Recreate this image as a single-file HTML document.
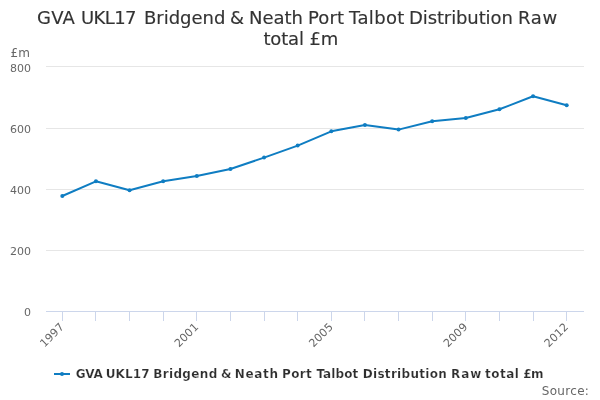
<!DOCTYPE html>
<html><head><meta charset="utf-8"><style>
html,body{margin:0;padding:0;background:#fff;}
svg{display:block;font-family:"DejaVu Sans","Liberation Sans",sans-serif;}
</style></head><body>
<svg width="600" height="400" viewBox="0 0 600 400">
<rect width="600" height="400" fill="#ffffff"/>
<path d="M 46 66.5 L 584 66.5" stroke="#e6e6e6" stroke-width="1" fill="none"/><path d="M 46 128.5 L 584 128.5" stroke="#e6e6e6" stroke-width="1" fill="none"/><path d="M 46 189.5 L 584 189.5" stroke="#e6e6e6" stroke-width="1" fill="none"/><path d="M 46 250.5 L 584 250.5" stroke="#e6e6e6" stroke-width="1" fill="none"/>
<path d="M 46 311.5 L 584 311.5" stroke="#ccd6eb" stroke-width="1" fill="none"/>
<path d="M 62.5 311 L 62.5 321" stroke="#ccd6eb" stroke-width="1" fill="none"/><path d="M 95.5 311 L 95.5 321" stroke="#ccd6eb" stroke-width="1" fill="none"/><path d="M 129.5 311 L 129.5 321" stroke="#ccd6eb" stroke-width="1" fill="none"/><path d="M 163.5 311 L 163.5 321" stroke="#ccd6eb" stroke-width="1" fill="none"/><path d="M 196.5 311 L 196.5 321" stroke="#ccd6eb" stroke-width="1" fill="none"/><path d="M 230.5 311 L 230.5 321" stroke="#ccd6eb" stroke-width="1" fill="none"/><path d="M 264.5 311 L 264.5 321" stroke="#ccd6eb" stroke-width="1" fill="none"/><path d="M 297.5 311 L 297.5 321" stroke="#ccd6eb" stroke-width="1" fill="none"/><path d="M 331.5 311 L 331.5 321" stroke="#ccd6eb" stroke-width="1" fill="none"/><path d="M 364.5 311 L 364.5 321" stroke="#ccd6eb" stroke-width="1" fill="none"/><path d="M 398.5 311 L 398.5 321" stroke="#ccd6eb" stroke-width="1" fill="none"/><path d="M 432.5 311 L 432.5 321" stroke="#ccd6eb" stroke-width="1" fill="none"/><path d="M 465.5 311 L 465.5 321" stroke="#ccd6eb" stroke-width="1" fill="none"/><path d="M 499.5 311 L 499.5 321" stroke="#ccd6eb" stroke-width="1" fill="none"/><path d="M 533.5 311 L 533.5 321" stroke="#ccd6eb" stroke-width="1" fill="none"/><path d="M 566.5 311 L 566.5 321" stroke="#ccd6eb" stroke-width="1" fill="none"/>
<path d="M 62.31 196.00 L 95.94 181.30 L 129.56 190.30 L 163.19 181.30 L 196.81 176.00 L 230.44 169.00 L 264.06 157.60 L 297.69 145.60 L 331.31 131.30 L 364.94 125.00 L 398.56 129.60 L 432.19 121.30 L 465.81 118.00 L 499.44 109.30 L 533.06 96.30 L 566.69 105.30" stroke="#0f7dc2" stroke-width="2" fill="none" stroke-linejoin="round" stroke-linecap="round"/>
<circle cx="62.31" cy="196.00" r="2" fill="#0f7dc2"/><circle cx="95.94" cy="181.30" r="2" fill="#0f7dc2"/><circle cx="129.56" cy="190.30" r="2" fill="#0f7dc2"/><circle cx="163.19" cy="181.30" r="2" fill="#0f7dc2"/><circle cx="196.81" cy="176.00" r="2" fill="#0f7dc2"/><circle cx="230.44" cy="169.00" r="2" fill="#0f7dc2"/><circle cx="264.06" cy="157.60" r="2" fill="#0f7dc2"/><circle cx="297.69" cy="145.60" r="2" fill="#0f7dc2"/><circle cx="331.31" cy="131.30" r="2" fill="#0f7dc2"/><circle cx="364.94" cy="125.00" r="2" fill="#0f7dc2"/><circle cx="398.56" cy="129.60" r="2" fill="#0f7dc2"/><circle cx="432.19" cy="121.30" r="2" fill="#0f7dc2"/><circle cx="465.81" cy="118.00" r="2" fill="#0f7dc2"/><circle cx="499.44" cy="109.30" r="2" fill="#0f7dc2"/><circle cx="533.06" cy="96.30" r="2" fill="#0f7dc2"/><circle cx="566.69" cy="105.30" r="2" fill="#0f7dc2"/>
<text font-size="18" font-weight="normal" fill="#333333" stroke="#333333" stroke-width="0.15" xml:space="preserve"><tspan x="37.00" y="24" letter-spacing="0.200">GVA</tspan> <tspan x="81.00" y="24" letter-spacing="-0.625">UKL17</tspan> <tspan x="144.00" y="24" letter-spacing="-0.029">Bridgend</tspan> <tspan x="230.00" y="24" letter-spacing="0.000">&amp;</tspan> <tspan x="249.00" y="24" letter-spacing="-0.050">Neath</tspan> <tspan x="308.00" y="24" letter-spacing="0.133">Port</tspan> <tspan x="349.00" y="24" letter-spacing="0.360">Talbot</tspan> <tspan x="409.00" y="24" letter-spacing="-0.109">Distribution</tspan> <tspan x="518.00" y="24" letter-spacing="0.700">Raw</tspan> <tspan x="263.40" y="44.5" letter-spacing="-0.150">total</tspan> <tspan x="309.40" y="44.5" letter-spacing="0.000">£m</tspan></text>
<text x="10.6" y="57" font-size="12" fill="#666666">£m</text>
<g font-size="11" fill="#666666"><text x="31" y="72" text-anchor="end">800</text><text x="31" y="133" text-anchor="end">600</text><text x="31" y="194" text-anchor="end">400</text><text x="31" y="255" text-anchor="end">200</text><text x="31" y="316" text-anchor="end">0</text></g>
<g font-size="11" fill="#666666"><text x="64.8" y="327.5" text-anchor="end" letter-spacing="0.2" transform="rotate(-45 64.8 327.5)">1997</text><text x="199.3" y="327.5" text-anchor="end" letter-spacing="0.2" transform="rotate(-45 199.3 327.5)">2001</text><text x="333.8" y="327.5" text-anchor="end" letter-spacing="0.2" transform="rotate(-45 333.8 327.5)">2005</text><text x="468.3" y="327.5" text-anchor="end" letter-spacing="0.2" transform="rotate(-45 468.3 327.5)">2009</text><text x="569.2" y="327.5" text-anchor="end" letter-spacing="0.2" transform="rotate(-45 569.2 327.5)">2012</text></g>
<path d="M 54 374 L 70 374" stroke="#0f7dc2" stroke-width="2" fill="none"/>
<circle cx="62" cy="374" r="2" fill="#0f7dc2"/>
<text font-size="12" font-weight="bold" fill="#2e2e2e" stroke="#ffffff" stroke-width="0.2" xml:space="preserve"><tspan x="75.80" y="378" letter-spacing="-0.350">GVA</tspan> <tspan x="105.70" y="378" letter-spacing="0.100">UKL17</tspan> <tspan x="153.20" y="378" letter-spacing="0.343">Bridgend</tspan> <tspan x="221.00" y="378" letter-spacing="0.000">&amp;</tspan> <tspan x="234.80" y="378" letter-spacing="0.675">Neath</tspan> <tspan x="282.00" y="378" letter-spacing="0.367">Port</tspan> <tspan x="316.40" y="378" letter-spacing="0.080">Talbot</tspan> <tspan x="362.70" y="378" letter-spacing="0.309">Distribution</tspan> <tspan x="451.00" y="378" letter-spacing="0.900">Raw</tspan> <tspan x="484.90" y="378" letter-spacing="0.525">total</tspan> <tspan x="523.20" y="378" letter-spacing="-0.600">£m</tspan></text>
<text x="541.8" y="394.8" font-size="12" letter-spacing="0.3" fill="#666666">Source:</text>
</svg>
</body></html>
